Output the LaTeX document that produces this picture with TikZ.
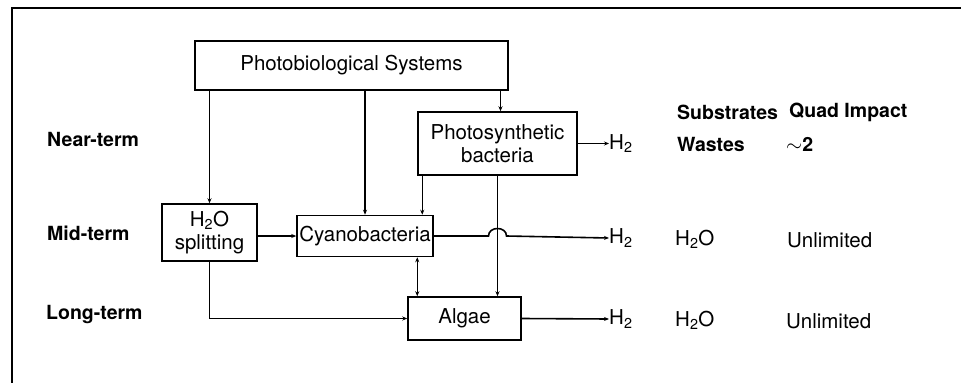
\documentclass[tikz,border=0pt]{standalone}
\usepackage{fontspec}
\setmainfont{TeX Gyre Heros}
\usetikzlibrary{arrows.meta}

\begin{document}
\begin{tikzpicture}[x=1pt,y=-1pt,
  boxnode/.style={draw,line width=1.5pt,inner sep=0pt,align=center,font=\fontsize{20.5}{23}\selectfont},
  termlabel/.style={anchor=west,inner sep=0pt,font=\fontsize{19.5}{22}\selectfont\bfseries},
  coltext/.style={anchor=west,inner sep=0pt,font=\fontsize{20.5}{23}\selectfont},
  link/.style={line width=1.1pt,-{Stealth[length=5pt,width=4pt]}},
  outlink/.style={line width=1.6pt,-{Stealth[length=5pt,width=4pt]}}]
\path[use as bounding box] (0,0) rectangle (961,383);
% frame
\draw[line width=1.8pt] (961,8) -- (12,8) -- (12,383);
% boxes
\node[boxnode,minimum width=313pt,minimum height=49pt] (photo) at (351.5,65.5) {Photobiological Systems};
\node[boxnode,minimum width=159pt,minimum height=63pt] (psb) at (497.5,143.5) {Photosynthetic\\bacteria};
\node[boxnode,minimum width=95pt,minimum height=57pt] (split) at (209.5,232.5) {H\textsubscript{2}O\\splitting};
\node[boxnode,minimum width=136pt,minimum height=41pt] (cyano) at (365,236) {Cyanobacteria};
\node[boxnode,minimum width=113pt,minimum height=43pt] (algae) at (464.5,318.5) {Algae};
% row labels
\node[termlabel] (near) at (47,139) {Near-term};
\node[termlabel] (mid) at (47,233) {Mid-term};
\node[termlabel] (long) at (46,315) {Long-term};
% table columns
\node[termlabel] (subs) at (677,112) {Substrates};
\node[termlabel] (quad) at (789,112) {Quad Impact};
\node[coltext] (h2a) at (609,143.5) {H\textsubscript{2}};
\node[coltext] (h2b) at (609,238) {H\textsubscript{2}};
\node[coltext] (h2c) at (609,319) {H\textsubscript{2}};
\node[termlabel] (wastes) at (677,144) {Wastes};
\node[termlabel] (quada) at (786,144) {$\sim$2};
\node[coltext] (subsb) at (675,239) {H\textsubscript{2}O};
\node[coltext] (quadb) at (787,240) {Unlimited};
\node[coltext] (subsc) at (675,320) {H\textsubscript{2}O};
\node[coltext] (quadc) at (786,321) {Unlimited};
% connector ends
\coordinate (psbin) at ([xshift=3pt]psb.north);
\coordinate (psbout) at ([xshift=5pt]psb.south west);
\coordinate (algaein) at ([xshift=10pt]algae.north west);
\coordinate (cross) at (psb.south |- cyano.east);
% connectors
\draw[link] (split.north |- photo.south) -- (split.north);
\draw[link] (cyano.north |- photo.south) -- (cyano.north);
\draw[link] (psbin |- photo.south) -- (psbin);
\draw[link] (psbout) -- (psbout |- cyano.north);
\draw[link] (psb.south) -- (algae.north -| psb.south);
\draw[line width=1.1pt,{Stealth[length=5pt,width=4pt]}-{Stealth[length=5pt,width=4pt]}] (algaein |- cyano.south) -- (algaein);
\draw[link] (split.east |- cyano.west) -- (cyano.west);
\draw[link] (split.south) |- (algae.west);
\draw[outlink] (cyano.east) -- ([xshift=-9pt]cross) .. controls ([xshift=-9pt,yshift=10pt]cross) and ([xshift=9pt,yshift=10pt]cross) .. ([xshift=9pt]cross) -- (h2b.west);
\draw[outlink] (psb.east) -- (h2a.west);
\draw[outlink] (algae.east) -- (h2c.west);
\end{tikzpicture}
\end{document}
